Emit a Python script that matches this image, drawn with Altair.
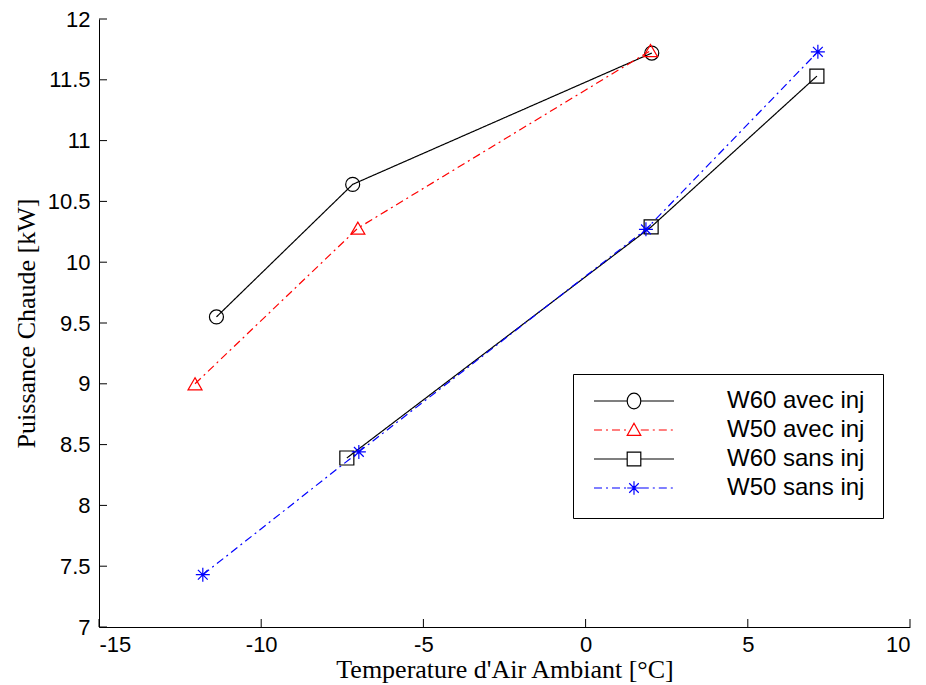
import altair as alt
import pandas as pd

# ---- data ----
series_names = ["W60 avec inj", "W50 avec inj", "W60 sans inj", "W50 sans inj"]

w60_avec_x = [-11.38, -7.18, 2.04]
w60_avec_y = [9.55, 10.64, 11.72]

w50_avec_x = [-12.04, -7.02, 2.0]
w50_avec_y = [9.0, 10.28, 11.74]

w60_sans_x = [-7.36, 2.02, 7.13]
w60_sans_y = [8.39, 10.29, 11.53]

w50_sans_x = [-11.8, -6.99, 1.86, 7.16]
w50_sans_y = [7.43, 8.44, 10.27, 11.73]

x_ticks = [-15, -10, -5, 0, 5, 10]
y_ticks = [7, 7.5, 8, 8.5, 9, 9.5, 10, 10.5, 11, 11.5, 12]

rows = []
for name, xs, ys in zip(series_names,
                        [w60_avec_x, w50_avec_x, w60_sans_x, w50_sans_x],
                        [w60_avec_y, w50_avec_y, w60_sans_y, w50_sans_y]):
    for xv, yv in zip(xs, ys):
        rows.append({"series": name, "T": xv, "P": yv})
df = pd.DataFrame(rows)
xt_df = pd.DataFrame({"T": x_ticks})
yt_df = pd.DataFrame({"P": y_ticks})

# ---- styles ----
W, H = 811, 608
TICK = 8
colors = ["#000000", "#ff0000", "#000000", "#0000ff"]
dashes = [[1, 0], [8, 4, 2, 4], [1, 0], [8, 4, 2, 4]]
asterisk = "M-1,0L1,0M0,-1L0,1M-0.7,-0.7L0.7,0.7M-0.7,0.7L0.7,-0.7"
plot_shapes = ["circle", "triangle-up", "square", asterisk]


def line_part(x0, x1, dashed):
    if not dashed:
        return f"M{x0:.3f},0L{x1:.3f},0"
    parts = []
    pattern = [(0.2, True), (0.1, False), (0.05, True), (0.1, False)]
    x = x0
    i = 0
    while x < x1:
        length, draw = pattern[i % 4]
        e = min(x + length, x1)
        if draw:
            parts.append(f"M{x:.3f},0L{e:.3f},0")
        x = e
        i += 1
    return "".join(parts)


m = 0.17
marker_paths = [
    f"M{m},0A{m},{m*1.15} 0 1,1 {-m},0A{m},{m*1.15} 0 1,1 {m},0",
    f"M0,{-m}L{m},{m*0.8}L{-m},{m*0.8}Z",
    f"M{-m},{-m}L{m},{-m}L{m},{m}L{-m},{m}Z",
    f"M{-m},0L{m},0M0,{-m}L0,{m}M{-m*0.7},{-m*0.7}L{m*0.7},{m*0.7}M{-m*0.7},{m*0.7}L{m*0.7},{-m*0.7}",
]
dashed_flags = [False, True, False, True]
legend_shapes = [
    line_part(-1, -m, d) + line_part(m, 1, d) + mp
    for d, mp in zip(dashed_flags, marker_paths)
]

xscale = alt.Scale(domain=[-15, 10], nice=False, zero=False)
yscale = alt.Scale(domain=[7, 12], nice=False, zero=False)

axis_common = dict(
    grid=False,
    ticks=False,
    domainColor="black",
    domainWidth=1,
    labelFont="Liberation Sans",
    labelFontSize=22,
    labelColor="black",
    labelExpr="datum.value + ''",
    titleFont="Liberation Serif",
    titleFontSize=26,
    titleFontWeight="normal",
    titleColor="black",
)

x_enc = alt.X("T:Q", scale=xscale,
              axis=alt.Axis(values=x_ticks, title="Temperature d'Air Ambiant [°C]",
                            labelPadding=7, titlePadding=1, **axis_common))
y_enc = alt.Y("P:Q", scale=yscale,
              axis=alt.Axis(values=y_ticks, title="Puissance Chaude [kW]",
                            labelPadding=9, titlePadding=8, **axis_common))

base = alt.Chart(df)
color_scale = alt.Scale(domain=series_names, range=colors)

lines = base.mark_line(strokeWidth=1.2).encode(
    x=x_enc,
    y=y_enc,
    color=alt.Color("series:N", scale=color_scale, legend=None),
    strokeDash=alt.StrokeDash("series:N", scale=alt.Scale(domain=series_names, range=dashes), legend=None),
)

points = base.mark_point(size=196, filled=False, strokeWidth=1.2, opacity=1).encode(
    x=x_enc,
    y=y_enc,
    color=alt.Color("series:N", scale=color_scale, legend=None),
    shape=alt.Shape("series:N", scale=alt.Scale(domain=series_names, range=plot_shapes), legend=None),
)

# inward tick marks at the axis tick values
x_tick_marks = alt.Chart(xt_df).mark_rule(color="black", strokeWidth=1).encode(
    x=x_enc,
    y=alt.value(H),
    y2=alt.value(H - TICK),
)
y_tick_marks = alt.Chart(yt_df).mark_rule(color="black", strokeWidth=1).encode(
    y=y_enc,
    x=alt.value(0),
    x2=alt.value(TICK),
)

legend_def = alt.Legend(
    title=None,
    orient="none",
    legendX=474,
    legendY=355,
    strokeColor="black",
    fillColor="white",
    padding=18,
    symbolSize=6400,
    symbolStrokeWidth=1.2,
    symbolOpacity=1,
    symbolFillColor="transparent",
    symbolOffset=2,
    labelFont="Liberation Sans",
    labelFontSize=24,
    labelColor="black",
    labelOffset=52,
    clipHeight=18,
    rowPadding=5,
    labelLimit=400,
)

legend_layer = base.mark_point(opacity=0, filled=False).encode(
    x=x_enc,
    y=y_enc,
    shape=alt.Shape("series:N", scale=alt.Scale(domain=series_names, range=legend_shapes),
                    legend=legend_def, sort=series_names),
    color=alt.Color("series:N", scale=color_scale, legend=legend_def, sort=series_names),
)

chart = alt.layer(lines, points, x_tick_marks, y_tick_marks, legend_layer).resolve_scale(
    shape="independent", color="independent"
).properties(
    width=W,
    height=H,
    padding={"left": 91, "top": 11, "right": 5, "bottom": 60},
    autosize=alt.AutoSizeParams(type="none"),
    background="white",
).configure_view(stroke=None)

chart.save("out.html", embed_options={"renderer": "svg", "actions": False})
